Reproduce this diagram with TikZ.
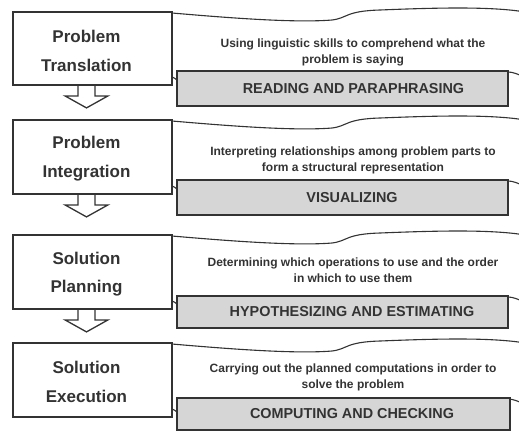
\documentclass[tikz,border=0pt]{standalone}
\usepackage{fontspec}
\setmainfont{Liberation Sans}
\definecolor{ink}{HTML}{333333}
\definecolor{boxgray}{HTML}{D6D6D6}
\begin{document}
\begin{tikzpicture}[x=1pt,y=-1pt,
  stage/.style={draw=ink, line width=1.8pt, fill=white, minimum width=159pt, minimum height=74pt, inner sep=0pt},
  stagetext/.style={align=center, inner sep=0pt, font=\bfseries\fontsize{17}{28.5}\selectfont, text=ink},
  skillbox/.style={draw=ink, line width=2.2pt, fill=boxgray, inner sep=0pt, minimum width=331pt},
  skilltext/.style={font=\bfseries\fontsize{14.4}{16}\selectfont, text=ink, inner sep=0pt},
  desc/.style={align=center, font=\bfseries\fontsize{12}{16}\selectfont, text=ink, inner sep=0pt},
  wave/.style={draw=ink, line width=1.1pt},
  blockarrow/.style={draw=ink, line width=1.3pt, line join=miter}]
\useasboundingbox (0,0) rectangle (519,432);

% ---- waves (behind boxes)
\foreach \T/\B/\G in {12/85/71, 120/194/180, 235/309/296, 343/417/398}{
  \draw[wave] (172,\T+1) .. controls (230,\T+6) and (295,\T+11) .. (332,\T+8)
     .. controls (348,\T+6) and (345,\T-1) .. (380,\T-2)
     .. controls (430,\T-4) and (490,\T-6) .. (525,\T);
  \draw[wave] (172,\B-8) .. controls (174,\B-8) and (175,\B-6) .. (177,\B-5);
  \draw[wave] (508,\G+1) .. controls (513,\G+1) and (517,\G+3) .. (525,\G+6);
}

% ---- stage boxes
\node[stage, minimum height=73pt] (p1) at (92.5,48.5) {};
\node[stage] (p2) at (92.5,157) {};
\node[stage] (p3) at (92.5,272) {};
\node[stage] (p4) at (92.5,380) {};
\node[stagetext] (t1) at ([xshift=-6pt,yshift=-2.5pt]p1.center) {Problem\\Translation};
\node[stagetext] (t2) at ([xshift=-6pt,yshift=-1.5pt]p2.center) {Problem\\Integration};
\node[stagetext] (t3) at ([xshift=-6pt,yshift=-2pt]p3.center) {Solution\\Planning};
\node[stagetext] (t4) at ([xshift=-6pt,yshift=-2pt]p4.center) {Solution\\Execution};

% ---- skill boxes
\node[skillbox, minimum height=35pt] (g1) at (342.5,88.5) {};
\node[skillbox, minimum height=35pt] (g2) at (342.5,197.5) {};
\node[skillbox, minimum height=32pt] (g3) at (342.5,312) {};
\node[skillbox, minimum height=32pt, minimum width=333pt] (g4) at (343.5,414) {};
\node[skilltext] (s1) at ([xshift=11pt]g1.center) {READING AND PARAPHRASING};
\node[skilltext] (s2) at ([xshift=9.5pt]g2.center) {VISUALIZING};
\node[skilltext] (s3) at ([xshift=9.5pt]g3.center) {HYPOTHESIZING AND ESTIMATING};
\node[skilltext] (s4) at ([xshift=8.5pt]g4.center) {COMPUTING AND CHECKING};

% ---- descriptions
\node[desc] (d1) at (353,52) {Using linguistic skills to comprehend what the\\problem is saying};
\node[desc] (d2) at (353,160) {Interpreting relationships among problem parts to\\form a structural representation};
\node[desc] (d3) at (353,270) {Determining which operations to use and the order\\in which to use them};
\node[desc] (d4) at (353,377) {Carrying out the planned computations in order to\\solve the problem};

% ---- block arrows
\foreach \p in {p1,p2,p3}{
  \draw[blockarrow] ([xshift=-14.5pt]\p.south) -- ++(0,10) -- ++(-13,0) -- ++(21.5,12) -- ++(21.5,-12) -- ++(-13,0) -- ++(0,-10);
}
\end{tikzpicture}
\end{document}
